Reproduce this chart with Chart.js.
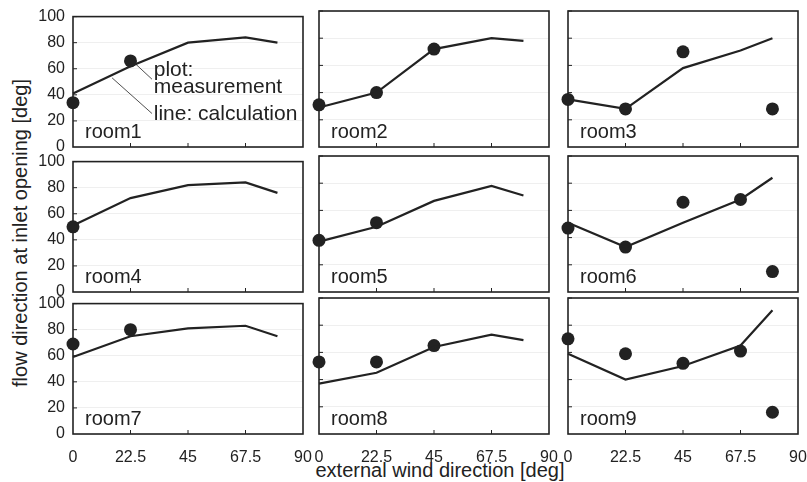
<!DOCTYPE html>
<html>
<head>
<meta charset="utf-8">
<script src="https://cdn.jsdelivr.net/npm/chart.js@4"></script>
<style>
    html, body { margin: 0; padding: 0; background: #fff; overflow: hidden; width: 807px; height: 482px; }
    #wrap { position: relative; width: 807px; height: 482px; }
    canvas { position: absolute; }
    .title { position: absolute; font-family: 'Liberation Sans', Arial, sans-serif; font-size: 20px; color: #222; white-space: nowrap; }
    #xtitle { left: 440px; top: 470px; transform: translate(-50%, -50%); }
    #ytitle { left: 20px; top: 233px; transform: translate(-50%, -50%) rotate(-90deg); }
</style>
</head>
<body>
<div id="wrap">
    <div class="title" id="xtitle">external wind direction [deg]</div>
    <div class="title" id="ytitle">flow direction at inlet opening [deg]</div>
</div>
<script>
// wind directions where calculation / measurement exist
const angles = [0, 22.5, 45, 67.5, 80];
const xTicks = [0, 22.5, 45, 67.5, 90];
const yTicks = [0, 20, 40, 60, 80, 100];
const rooms = ['room1', 'room2', 'room3', 'room4', 'room5', 'room6', 'room7', 'room8', 'room9'];

// line: calculation
const calc1 = [41, 62, 80, 84, 80];
const calc2 = [29, 40, 72, 80, 78];
const calc3 = [35, 28, 58, 71, 80];
const calc4 = [51, 72, 82, 84, 76];
const calc5 = [37, 48, 67, 78, 71];
const calc6 = [51, 33, 51, 68, 84];
const calc7 = [59, 75, 81, 83, 75];
const calc8 = [37, 45, 64, 73, 69];
const calc9 = [59, 40, 50, 65, 91];

// plot: measurement (null = not measured)
const meas1 = [34, 66, null, null, null];
const meas2 = [31, 40, 72, null, null];
const meas3 = [35, 28, 70, null, 28];
const meas4 = [50, null, null, null, null];
const meas5 = [38, 51, null, null, null];
const meas6 = [47, 33, 66, 68, 15];
const meas7 = [69, 80, null, null, null];
const meas8 = [53, 53, 65, null, null];
const meas9 = [70, 59, 52, 61, 16];

const calcAll = [calc1, calc2, calc3, calc4, calc5, calc6, calc7, calc8, calc9];
const measAll = [meas1, meas2, meas3, meas4, meas5, meas6, meas7, meas8, meas9];

// panel layout
const colLeft = [73, 319, 568];
const rowTop = [11, 156, 298];
const plotW = 230, plotH = 136;
const M = { left: 45, right: 20, top: 12, bottom: 30 };
const FONT = "'Liberation Sans', Arial, sans-serif";
const INK = '#222';

const panelFrame = {
    id: 'panelFrame',
    beforeDatasetsDraw(chart) {
        const { ctx, chartArea: a, scales: { x, y } } = chart;
        ctx.save();
        ctx.strokeStyle = INK;
        ctx.lineWidth = 1.6;
        ctx.strokeRect(a.left, a.top, a.right - a.left, a.bottom - a.top);
        ctx.lineWidth = 1;
        ctx.beginPath();
        xTicks.slice(1, -1).forEach(v => {
            const px = x.getPixelForValue(v);
            ctx.moveTo(px, a.bottom);
            ctx.lineTo(px, a.bottom - 4);
        });
        yTicks.slice(1).forEach(v => {
            const py = y.getPixelForValue(v);
            ctx.moveTo(a.left, py);
            ctx.lineTo(a.left + 4, py);
        });
        ctx.stroke();
        ctx.restore();
    },
    afterDraw(chart, args, opts) {
        const { ctx, chartArea: a, scales: { x, y } } = chart;
        ctx.save();
        ctx.fillStyle = INK;
        ctx.font = '20px ' + FONT;
        ctx.textBaseline = 'middle';
        ctx.fillText(opts.label, a.left + 12, a.bottom - 15);

        if (opts.note) {
            // legend-like note in room1
            ctx.font = '21px ' + FONT;
            const tx = x.getPixelForValue(31.6);
            ctx.fillText('plot:', tx, y.getPixelForValue(59));
            ctx.fillText('measurement', tx, y.getPixelForValue(46));
            ctx.fillText('line: calculation', tx, y.getPixelForValue(25.5));
            ctx.strokeStyle = INK;
            ctx.lineWidth = 0.8;
            ctx.beginPath();
            ctx.moveTo(x.getPixelForValue(24.3), y.getPixelForValue(64));
            ctx.lineTo(x.getPixelForValue(30.9), y.getPixelForValue(52));
            ctx.moveTo(x.getPixelForValue(15.3), y.getPixelForValue(53));
            ctx.lineTo(x.getPixelForValue(30.9), y.getPixelForValue(25.7));
            ctx.stroke();
        }
        ctx.restore();
    }
};

function toPoints(values) {
    return angles.map((a, i) => ({ x: a, y: values[i] })).filter(p => p.y !== null);
}

function buildPanel(index) {
    const col = index % 3;
    const row = Math.floor(index / 3);
    const canvas = document.createElement('canvas');
    const w = plotW + M.left + M.right;
    const h = plotH + M.top + M.bottom;
    canvas.width = w;
    canvas.height = h;
    canvas.style.left = (colLeft[col] - M.left) + 'px';
    canvas.style.top = (rowTop[row] - M.top) + 'px';
    canvas.style.width = w + 'px';
    canvas.style.height = h + 'px';
    document.getElementById('wrap').appendChild(canvas);

    return new Chart(canvas.getContext('2d'), {
        type: 'line',
        data: {
            datasets: [{
                label: 'calculation',
                data: toPoints(calcAll[index]),
                borderColor: INK,
                borderWidth: 2.2,
                pointRadius: 0,
                fill: false,
                tension: 0,
                clip: false
            }, {
                label: 'measurement',
                data: toPoints(measAll[index]),
                showLine: false,
                pointRadius: 6.5,
                pointBackgroundColor: INK,
                pointBorderColor: INK,
                pointBorderWidth: 0,
                clip: false
            }]
        },
        plugins: [panelFrame],
        options: {
            responsive: false,
            animation: false,
            events: [],
            layout: { padding: { top: M.top, right: M.right, left: 0, bottom: 0 } },
            plugins: {
                legend: { display: false },
                tooltip: { enabled: false },
                panelFrame: { label: rooms[index], note: index === 0 }
            },
            scales: {
                x: {
                    type: 'linear',
                    min: 0,
                    max: 90,
                    afterBuildTicks: scale => { scale.ticks = xTicks.map(v => ({ value: v })); },
                    afterFit: scale => { scale.height = M.bottom; },
                    grid: { display: false },
                    border: { display: false },
                    ticks: {
                        display: row === 2,
                        color: INK,
                        padding: 6,
                        maxRotation: 0,
                        autoSkip: false,
                        font: { family: FONT, size: 16 },
                        callback: v => String(v)
                    }
                },
                y: {
                    min: 0,
                    max: 100,
                    afterBuildTicks: scale => { scale.ticks = yTicks.map(v => ({ value: v })); },
                    afterFit: scale => { scale.width = M.left; },
                    grid: { color: '#efefef', lineWidth: 1, drawTicks: false },
                    border: { display: false },
                    ticks: {
                        display: col === 0,
                        color: INK,
                        padding: 8,
                        font: { family: FONT, size: 16 },
                        callback: v => String(v)
                    }
                }
            }
        }
    });
}

const charts = rooms.map((r, i) => buildPanel(i));
</script>
</body>
</html>
